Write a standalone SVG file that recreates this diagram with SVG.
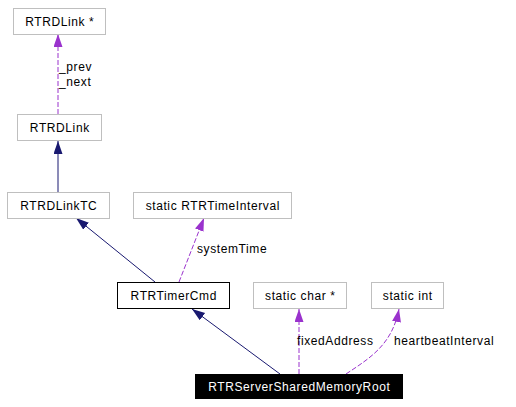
<svg xmlns="http://www.w3.org/2000/svg" width="516" height="407" viewBox="0 0 516 407">
<style>
.box{fill:#fff;stroke:#bfbfbf;stroke-width:1}
.t{font-family:"Liberation Sans",Arial,sans-serif;font-size:12px;letter-spacing:0.6px;fill:#000;text-anchor:middle}
.l{font-family:"Liberation Sans",Arial,sans-serif;font-size:12px;letter-spacing:0.6px;fill:#000}
.inh{fill:none;stroke:#191970;stroke-width:1}
.use{fill:none;stroke:#9a32cd;stroke-width:1;stroke-dasharray:5,2}
</style>
<defs>
<marker id="an" markerUnits="userSpaceOnUse" markerWidth="14" markerHeight="10" refX="13" refY="4.5" orient="auto">
<path d="M0,0 L13,4.5 L0,9 z" fill="#191970"/>
</marker>
<marker id="ap" markerUnits="userSpaceOnUse" markerWidth="14" markerHeight="10" refX="13" refY="4.5" orient="auto">
<path d="M0,0 L13,4.5 L0,9 z" fill="#9a32cd"/>
</marker>
</defs>
<rect width="516" height="407" fill="#fff"/>
<g id="edges">
<path class="use" d="M58,114 L58,34" marker-end="url(#ap)"/>
<path class="inh" d="M58,192 L58,141" marker-end="url(#an)"/>
<path class="inh" d="M155,282 L76,218" marker-end="url(#an)"/>
<path class="use" d="M179,282 L204,218" marker-end="url(#ap)"/>
<path class="inh" d="M280,374 L192,309" marker-end="url(#an)"/>
<path class="use" d="M299,374 L299,309" marker-end="url(#ap)"/>
<path class="use" d="M346,374 C370,358 392,345 399,309" marker-end="url(#ap)"/>
<text class="l" x="59" y="71">_prev</text>
<text class="l" x="59" y="86">_next</text>
<text class="l" x="197" y="253">systemTime</text>
<text class="l" x="297" y="345">fixedAddress</text>
<text class="l" x="394" y="345">heartbeatInterval</text>
</g>
<g id="n_rtrdlink_ptr"><rect class="box" x="13.5" y="8.5" width="92" height="26"/><text class="t" x="59.8" y="26">RTRDLink *</text></g>
<g id="n_rtrdlink"><rect class="box" x="17.5" y="114.5" width="84" height="26"/><text class="t" x="59.8" y="132">RTRDLink</text></g>
<g id="n_rtrdlinktc"><rect class="box" x="7.5" y="192.5" width="102" height="26"/><text class="t" x="58.8" y="210">RTRDLinkTC</text></g>
<g id="n_timeinterval"><rect class="box" x="133.5" y="192.5" width="158" height="26"/><text class="t" x="212.8" y="210">static RTRTimeInterval</text></g>
<g id="n_timercmd"><rect x="117.5" y="282.5" width="112" height="26" fill="#fff" stroke="#000"/><text class="t" x="173.8" y="300">RTRTimerCmd</text></g>
<g id="n_char"><rect class="box" x="253.5" y="282.5" width="93" height="26"/><text class="t" x="300.3" y="300">static char *</text></g>
<g id="n_int"><rect class="box" x="371.5" y="282.5" width="72" height="26"/><text class="t" x="407.8" y="300">static int</text></g>
<g id="n_root"><rect x="195" y="374" width="208" height="25" fill="#000"/><text class="t" x="299.3" y="391" style="fill:#fff">RTRServerSharedMemoryRoot</text></g>
</svg>
